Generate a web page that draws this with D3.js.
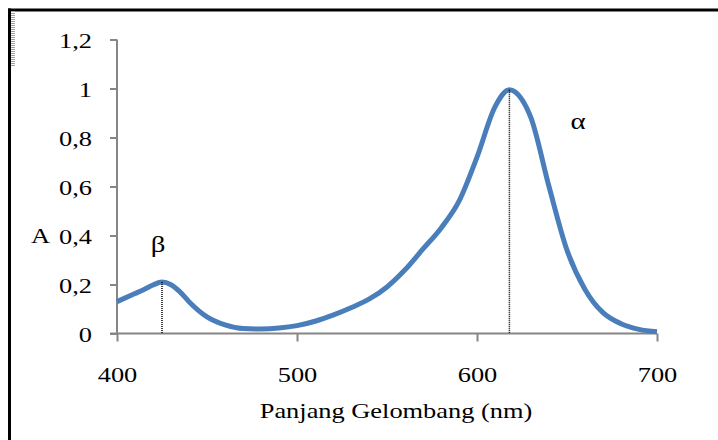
<!DOCTYPE html>
<html><head><meta charset="utf-8">
<script src="https://cdn.jsdelivr.net/npm/d3@7"></script>
<style>body{margin:0;background:#fff}svg{display:block}text{font-family:"Liberation Serif","Times New Roman",serif;fill:#000}</style>
</head><body><svg id="c" width="718" height="440"></svg>
<script>
const wavelength = [400,410,415,420,425,430,435,440,450,460,470,480,490,500,510,520,530,540,550,560,570,580,590,600,610,618,625,630,640,650,660,670,680,690,700];
const absorbance = [0.13,0.163,0.18,0.198,0.21,0.199,0.17,0.13,0.068,0.035,0.02,0.018,0.022,0.032,0.05,0.075,0.105,0.14,0.19,0.26,0.345,0.43,0.54,0.72,0.925,0.995,0.955,0.88,0.6,0.34,0.18,0.085,0.04,0.017,0.007];
const xTicks = [400,500,600,700];
const yTicks = [0,0.2,0.4,0.6,0.8,1,1.2];
const yTickLabels = ["0","0,2","0,4","0,6","0,8","1","1,2"];
const peaks = [{w:425,a:0.21,label:"β"},{w:618,a:0.995,label:"α"}];
const xTitle = "Panjang Gelombang (nm)";
const yTitle = "A";

const svg = d3.select("#c");
const x = d3.scaleLinear().domain([400,700]).range([117,657]);
const y = d3.scaleLinear().domain([0,1.2]).range([333.5,39.5]);
const axisColor = "#868686";
const SX = 1.2;
const place = (sel, tx, ty) => sel.attr("x",0).attr("y",0).attr("dy",null).attr("transform",`translate(${tx},${ty}) scale(${SX},1)`);

// frame
svg.append("line").attr("x1",9.5).attr("x2",9.5).attr("y1",8.5).attr("y2",440).attr("stroke","#000").attr("stroke-width",3);
svg.append("line").attr("x1",8).attr("x2",718).attr("y1",10).attr("y2",10).attr("stroke","#000").attr("stroke-width",3);
svg.append("line").attr("x1",13).attr("x2",13).attr("y1",11).attr("y2",66).attr("stroke","#a0a0a0").attr("stroke-width",4).attr("stroke-dasharray","1,1");

// y axis
const yAxis = svg.append("g").attr("transform","translate(117,0)")
  .call(d3.axisLeft(y).tickValues(yTicks).tickSize(7).tickFormat((d,i)=>yTickLabels[i]));
yAxis.select(".domain").attr("stroke",axisColor).attr("stroke-width",2).attr("d","M0,39.5V333.5");
yAxis.selectAll(".tick line").attr("stroke",axisColor).attr("stroke-width",2);
yAxis.selectAll(".tick text").style("font-size","22px").style("font-family","Liberation Serif").attr("fill","#000")
  .call(s=>place(s,-25,7.5));

// x axis
const xAxis = svg.append("g").attr("transform","translate(0,333.5)")
  .call(d3.axisBottom(x).tickValues(xTicks).tickSize(8).tickFormat(d3.format("d")));
xAxis.select(".domain").attr("stroke",axisColor).attr("stroke-width",2).attr("d","M110,0H657");
xAxis.selectAll(".tick line").attr("stroke",axisColor).attr("stroke-width",2);
xAxis.selectAll(".tick text").style("font-size","22px").style("font-family","Liberation Serif").attr("fill","#000")
  .call(s=>place(s,0,48.5));

// curve
const line = d3.line().x((d,i)=>x(wavelength[i])).y(d=>y(d)).curve(d3.curveMonotoneX);
svg.append("path").datum(absorbance).attr("d",line).attr("fill","none")
  .attr("stroke","#4a7ebb").attr("stroke-width",5);

// dotted markers
svg.selectAll(".drop").data(peaks).enter().append("line")
  .attr("x1",d=>x(d.w)).attr("x2",d=>x(d.w)).attr("y1",d=>y(d.a)).attr("y2",y(0))
  .attr("stroke","#000").attr("stroke-width",1.5).attr("stroke-dasharray","1,1");

// peak labels
svg.append("text").attr("text-anchor","middle").style("font-size","24px").text(peaks[0].label).call(s=>place(s,158,252));
svg.append("text").attr("text-anchor","middle").style("font-size","24px").text(peaks[1].label).call(s=>place(s,578,129));

// titles
svg.append("text").attr("text-anchor","middle").style("font-size","22px").text(xTitle).call(s=>place(s,396,418));
svg.append("text").style("font-size","22px").text(yTitle).call(s=>place(s,31,243));
</script></body></html>
